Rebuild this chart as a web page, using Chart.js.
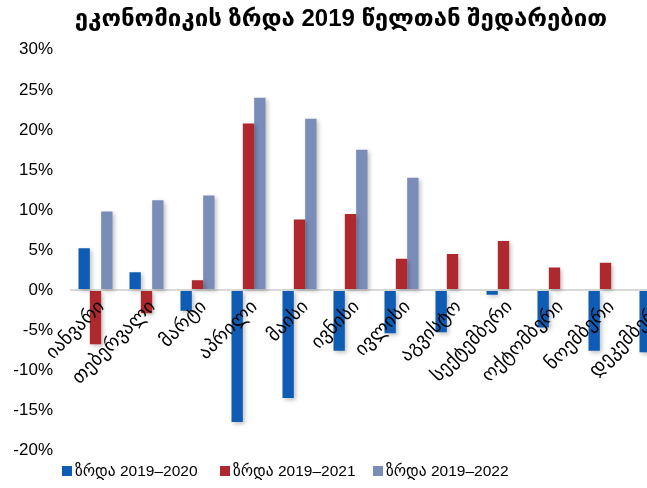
<!DOCTYPE html>
<html>
<head>
<meta charset="utf-8">
<script src="https://cdn.jsdelivr.net/npm/chart.js@4"></script>
<style>
  body { margin: 0; overflow: hidden; background: #fff; }
  #wrap { position: relative; width: 682px; height: 488px; }
  .legend-item { position: absolute; top: 462px; font: 15.5px 'Liberation Sans', 'DejaVu Sans', sans-serif; color: #000; white-space: nowrap; }
  .legend-item span { display: inline-block; width: 10px; height: 10px; margin-right: 3px; }
</style>
</head>
<body>
<div id="wrap">
  <canvas id="growth-chart" width="682" height="488"></canvas>
  <div class="legend-item" style="left:62px"><span style="background:#0F5CB4"></span>ზრდა 2019–2020</div>
  <div class="legend-item" style="left:220px"><span style="background:#AE282E"></span>ზრდა 2019–2021</div>
  <div class="legend-item" style="left:373px"><span style="background:#7A8CB8"></span>ზრდა 2019–2022</div>
</div>
<script>
var months = ['იანვარი', 'თებერვალი', 'მარტი', 'აპრილი', 'მაისი', 'ივნისი', 'ივლისი', 'აგვისტო', 'სექტემბერი', 'ოქტომბერი', 'ნოემბერი', 'დეკემბერი'];
var growth2020 = [5.2, 2.2, -2.6, -16.5, -13.5, -7.6, -5.4, -5.3, -0.6, -4.7, -7.6, -7.8];
var growth2021 = [-6.8, -2.9, 1.2, 20.8, 8.8, 9.5, 3.9, 4.5, 6.1, 2.8, 3.4, null];
var growth2022 = [9.8, 11.2, 11.8, 24.0, 21.4, 17.5, 14.0, null, null, null, null, null];
var seriesNames = ['ზრდა 2019–2020', 'ზრდა 2019–2021', 'ზრდა 2019–2022'];

Chart.defaults.font.family = "'Liberation Sans', 'DejaVu Sans', sans-serif";
Chart.defaults.color = '#000';

// bar shadows
var shadowPlugin = {
    id: 'barShadow',
    beforeDatasetsDraw: function (chart) {
        var ctx = chart.ctx;
        ctx.save();
        ctx.shadowColor = 'rgba(0,0,0,0.25)';
        ctx.shadowBlur = 4;
        ctx.shadowOffsetX = 2;
        ctx.shadowOffsetY = 2;
    },
    afterDatasetsDraw: function (chart) {
        chart.ctx.restore();
    }
};

// month labels next to the zero line
var monthLabels = {
    id: 'monthLabels',
    afterDatasetsDraw: function (chart) {
        var ctx = chart.ctx;
        var x = chart.scales.x, y = chart.scales.y;
        var y0 = y.getPixelForValue(0);
        ctx.save();
        ctx.font = "19px 'Liberation Sans', 'DejaVu Sans', sans-serif";
        ctx.fillStyle = '#000';
        ctx.textAlign = 'right';
        ctx.textBaseline = 'middle';
        months.forEach(function (m, i) {
            ctx.save();
            ctx.translate(x.getPixelForValue(i) + 6, y0 + 14);
            ctx.rotate(-Math.PI / 4);
            ctx.fillText(m, 0, 0);
            ctx.restore();
        });
        ctx.restore();
    }
};

var ctx = document.getElementById('growth-chart').getContext('2d');
var growthChart = new Chart(ctx, {
    type: 'bar',
    data: {
        labels: months,
        datasets: [
            { label: seriesNames[0], data: growth2020, backgroundColor: '#0F5CB4' },
            { label: seriesNames[1], data: growth2021, backgroundColor: '#AE282E' },
            { label: seriesNames[2], data: growth2022, backgroundColor: '#7A8CB8' }
        ]
    },
    options: {
        responsive: false,
        animation: false,
        layout: { padding: { left: 0, right: 0, top: 0, bottom: 38 } },
        categoryPercentage: 0.667,
        barPercentage: 1,
        plugins: {
            legend: { display: false },
            tooltip: { enabled: false },
            title: {
                display: true,
                text: 'ეკონომიკის ზრდა 2019 წელთან შედარებით',
                font: { size: 24, weight: 'bold' },
                color: '#000',
                padding: { top: 5, bottom: 16 }
            }
        },
        scales: {
            x: { display: false },
            y: {
                min: -20,
                max: 30,
                afterFit: function (s) { s.width = 70; },
                ticks: {
                    stepSize: 5,
                    padding: 17,
                    font: { size: 17 },
                    color: '#000',
                    callback: function (v) { return v + '%'; }
                },
                border: { display: false },
                grid: {
                    drawTicks: false,
                    color: function (c) { return c.tick && c.tick.value === 0 ? '#D9D9D9' : 'rgba(0,0,0,0)'; },
                    lineWidth: function (c) { return c.tick && c.tick.value === 0 ? 2 : 0; }
                }
            }
        }
    },
    plugins: [shadowPlugin, monthLabels]
});
</script>
</body>
</html>
